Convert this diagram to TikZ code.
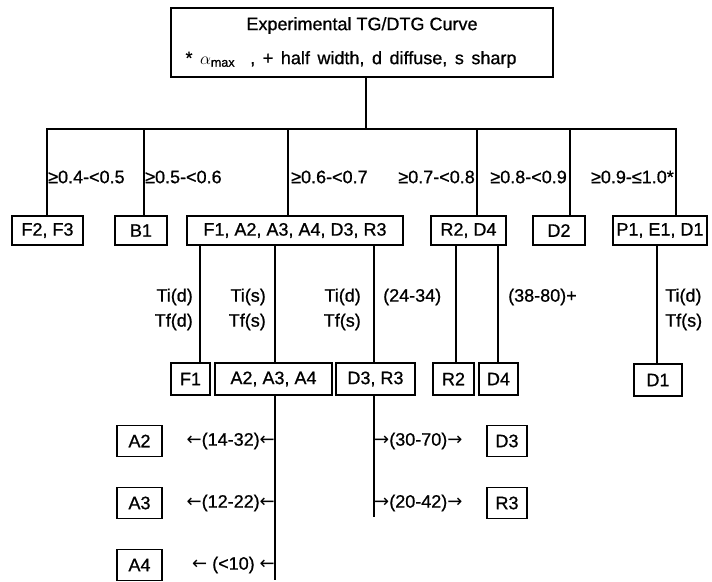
\documentclass[tikz,border=0pt]{standalone}
\usepackage{fontspec}
\setmainfont{Liberation Sans}[FakeBold=0.8,AutoFakeBold=0.8]
\newfontfamily\arrfont{DejaVu Sans}
\newcommand{\la}{{\arrfont ←}}
\newcommand{\ra}{{\arrfont →}}
\begin{document}
\begin{tikzpicture}[x=1pt,y=-1pt,
  every node/.style={font=\fontsize{18}{25}\selectfont},
  bx/.style={draw, line width=1.8pt, inner sep=0pt, align=center},
  ln/.style={line width=1.8pt},
  lbl/.style={inner sep=0pt}]
\useasboundingbox (0,0) rectangle (712,581);

% top box
\node[bx, minimum width=382, minimum height=69, font=\fontsize{18}{34}\selectfont] (top) at (362,42.5)
  {Experimental TG/DTG Curve\\ {\spaceskip=0.42em * $\alpha_{\mathrm{max}}$\ \ , + half width, d diffuse, s sharp}\hspace*{22pt}};

% row 1
\node[bx, minimum width=71, minimum height=29] (f23) at (47.5,230.5) {F2, F3};
\node[bx, minimum width=52, minimum height=29] (b1) at (141,230.5) {B1};
\node[bx, minimum width=216, minimum height=29] (r1c) at (295,230.5) {F1, A2, A3, A4, D3, R3};
\node[bx, minimum width=75, minimum height=29] (r1d) at (468.5,230.5) {R2, D4};
\node[bx, minimum width=52, minimum height=29] (d2) at (559,230.5) {D2};
\node[bx, minimum width=94, minimum height=29] (r1f) at (660,230.5) {P1, E1, D1};

% row 2
\node[bx, minimum width=39, minimum height=32] (f1) at (190.5,379) {F1};
\node[bx, minimum width=117, minimum height=32] (a234) at (273.5,379) {A2, A3, A4};
\node[bx, minimum width=79, minimum height=32] (d3r3) at (375.5,379) {D3, R3};
\node[bx, minimum width=41, minimum height=32] (r2) at (453.5,379) {R2};
\node[bx, minimum width=39, minimum height=32] (d4) at (498.5,379) {D4};
\node[bx, minimum width=48, minimum height=32] (d1) at (658,380) {D1};

% row 3
\node[bx, minimum width=45, minimum height=31] (a2) at (139.5,441) {A2};
\node[bx, minimum width=45, minimum height=31] (a3) at (139.5,503) {A3};
\node[bx, minimum width=45, minimum height=31] (a4) at (139.5,565) {A4};
\node[bx, minimum width=40, minimum height=31] (d3) at (507,441) {D3};
\node[bx, minimum width=40, minimum height=31] (r3) at (507,503) {R3};

% junctions
\coordinate (j0) at (366,129);
\coordinate (j1) at (47,129);
\coordinate (j2) at (144,129);
\coordinate (j3) at (288,129);
\coordinate (j4) at (477,129);
\coordinate (j5) at (570,129);
\coordinate (j6) at (676,129);
\coordinate (xf1) at (200,0);
\coordinate (xa) at (275,0);
\coordinate (xd) at (374,0);
\coordinate (xr2) at (456,0);
\coordinate (xd4) at (498,0);
\coordinate (xd1) at (657,0);
\coordinate (aend) at (275,580);
\coordinate (dend) at (374,517);

\draw[ln] (top.south -| j0) -- (j0);
\draw[ln] (j1 |- f23.north) -- (j1) -- (j6) -- (j6 |- r1f.north);
\draw[ln] (j2) -- (j2 |- b1.north);
\draw[ln] (j3) -- (j3 |- r1c.north);
\draw[ln] (j4) -- (j4 |- r1d.north);
\draw[ln] (j5) -- (j5 |- d2.north);

\draw[ln] (r1c.south -| xf1) -- (f1.north -| xf1);
\draw[ln] (r1c.south -| xa) -- (a234.north -| xa);
\draw[ln] (r1c.south -| xd) -- (d3r3.north -| xd);
\draw[ln] (r1d.south -| xr2) -- (r2.north -| xr2);
\draw[ln] (r1d.south -| xd4) -- (d4.north -| xd4);
\draw[ln] (r1f.south -| xd1) -- (d1.north -| xd1);

\draw[ln] (a234.south -| xa) -- (aend);
\draw[ln] (d3r3.south -| xd) -- (dend);

% range labels
\node[lbl, anchor=west] (l1) at (48,177) {≥0.4-<0.5};
\node[lbl, anchor=west] (l2) at (145,177) {≥0.5-<0.6};
\node[lbl, anchor=west] (l3) at (291,177) {≥0.6-<0.7};
\node[lbl, anchor=east] (l4) at (475,177) {≥0.7-<0.8};
\node[lbl, anchor=east] (l5) at (567,177) {≥0.8-<0.9};
\node[lbl, anchor=east] (l6) at (674,177) {≥0.9-≤1.0*};

% second level labels
\node[lbl, anchor=east, align=right] (t1) at (193,309.5) {Ti(d)\\Tf(d)};
\node[lbl, anchor=east, align=right] (t2) at (266,309.5) {Ti(s)\\Tf(s)};
\node[lbl, anchor=east, align=right] (t3) at (361,309.5) {Ti(d)\\Tf(s)};
\node[lbl, anchor=west] (t4) at (383,297) {(24-34)};
\node[lbl, anchor=west] (t5) at (508,297) {(38-80)+};
\node[lbl, anchor=west, align=left] (t6) at (665,309.5) {Ti(d)\\Tf(s)};

% third level labels
\node[lbl, anchor=east] (u1) at (275,441) {\la(14-32)\la};
\node[lbl, anchor=east] (u2) at (275,503) {\la(12-22)\la};
\node[lbl, anchor=east] (u3) at (275,565) {\la{} (<10) \la};
\node[lbl, anchor=west] (u4) at (374,441) {\ra(30-70)\ra};
\node[lbl, anchor=west] (u5) at (374,503) {\ra(20-42)\ra};
\end{tikzpicture}
\end{document}
